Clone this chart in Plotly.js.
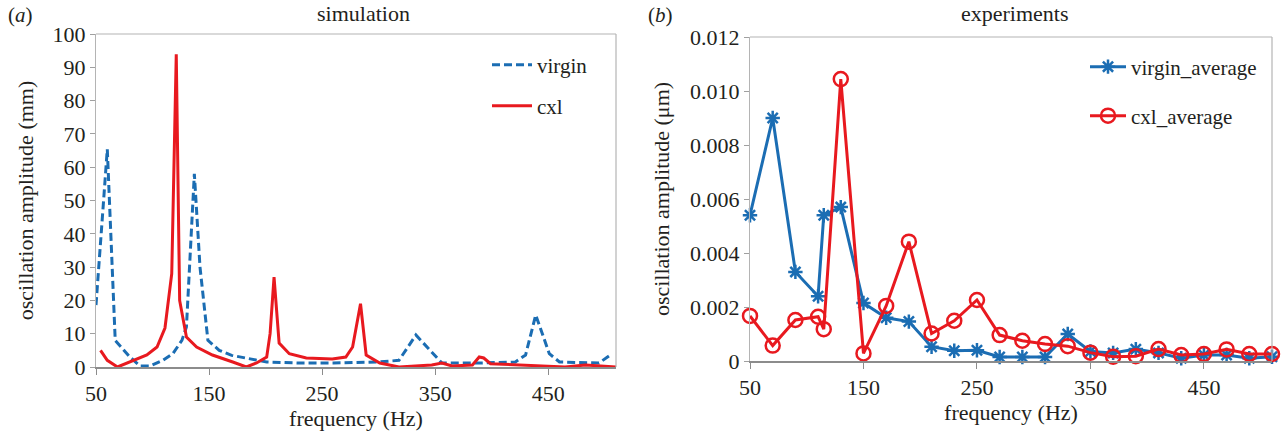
<!DOCTYPE html>
<html>
<head>
<meta charset="utf-8">
<script src="https://cdn.plot.ly/plotly-3.0.1.min.js"></script>
<style>html,body{margin:0;padding:0;background:#fff;}#chart{width:1283px;height:437px;}</style>
</head>
<body>
<div id="chart"></div>
<script>
// ---- (a) simulation ----
var simFreqVirgin = [50, 60, 67, 80, 89, 98, 109, 118, 126, 130, 137, 142, 149, 159, 170, 183, 201, 230, 260, 300, 318, 333, 351, 356, 389, 421, 430, 439, 451, 460, 495, 505];
var simVirgin =     [18.6, 65.4, 8, 3, 0.3, 0.3, 2, 4, 8, 12, 58, 30, 8, 5, 3.5, 2.7, 1.5, 1.2, 1.2, 1.5, 2, 9.6, 3, 1.2, 1.2, 1.5, 3.6, 15.6, 4, 1.5, 1.2, 3.6];
var simFreqCxl = [54, 60, 69, 83, 95, 104, 111, 117, 121, 124, 130, 139, 153, 171, 183, 192, 201, 204, 207.5, 212, 221, 236, 259, 271, 277, 284, 289, 301, 318, 347, 356, 365, 383, 389, 393, 399, 421, 465, 483, 510];
var simCxl =     [5, 2, 0, 2, 3.6, 6, 11.7, 28, 93.9, 20, 9, 6, 3.6, 1.5, 0, 1.2, 3, 10, 27, 7.2, 4, 2.7, 2.4, 3, 6, 19, 3.6, 1.2, 0, 0.6, 1.2, 0.3, 0.6, 3, 2.7, 1, 0.6, 0, 0.6, 0];

// ---- (b) experiments ----
var expFreq = [50, 70, 90, 110, 115, 130, 150, 170, 190, 210, 230, 250, 270, 290, 310, 330, 350, 370, 390, 410, 430, 450, 470, 490, 510];
var expVirgin = [0.0054, 0.0090, 0.0033, 0.0024, 0.0054, 0.0057, 0.00215, 0.0016, 0.00146, 0.00053, 0.00038, 0.0004, 0.00015, 0.00015, 0.00015, 0.0010, 0.00035, 0.0003, 0.00044, 0.0003, 0.0001, 0.00022, 0.00022, 0.0001, 0.00016];
var expCxl = [0.00167, 0.00057, 0.00152, 0.00164, 0.00118, 0.01044, 0.00028, 0.00204, 0.00442, 0.00102, 0.00149, 0.00226, 0.00096, 0.00075, 0.00063, 0.00055, 0.00031, 0.00016, 0.00018, 0.00044, 0.00022, 0.00026, 0.00043, 0.00026, 0.00026];

var xTickVals = [50, 150, 250, 350, 450];
var simYTickVals = [0, 10, 20, 30, 40, 50, 60, 70, 80, 90, 100];
var expYTickVals = [0, 0.002, 0.004, 0.006, 0.008, 0.010, 0.012];
var expYTickText = ['0', '0.002', '0.004', '0.006', '0.008', '0.010', '0.012'];

var BLUE = '#1b6db3';
var RED = '#e8191f';
var FONT = 'Liberation Serif';
var TXT = '#231f20';
var W = 1283, H = 437;

function f(size) { return {family: FONT, size: size, color: TXT}; }

var traces = [
  {x: simFreqVirgin, y: simVirgin, type: 'scatter', mode: 'lines', name: 'virgin',
   line: {color: BLUE, width: 3, dash: '8px,4px'}, xaxis: 'x', yaxis: 'y', legend: 'legend', cliponaxis: false},
  {x: simFreqCxl, y: simCxl, type: 'scatter', mode: 'lines', name: 'cxl',
   line: {color: RED, width: 3}, xaxis: 'x', yaxis: 'y', legend: 'legend2', cliponaxis: false},
  {x: expFreq, y: expVirgin, type: 'scatter', mode: 'lines+markers', name: 'virgin_average',
   line: {color: BLUE, width: 3}, marker: {symbol: 'asterisk-open', size: 12, color: BLUE, line: {color: BLUE, width: 2.5}},
   xaxis: 'x2', yaxis: 'y2', legend: 'legend3', cliponaxis: false},
  {x: expFreq, y: expCxl, type: 'scatter', mode: 'lines+markers', name: 'cxl_average',
   line: {color: RED, width: 3}, marker: {symbol: 'circle-open', size: 14, color: RED, line: {color: RED, width: 2.5}},
   xaxis: 'x2', yaxis: 'y2', legend: 'legend4', cliponaxis: false}
];

function px(x) { return x / W; }
function py(y) { return 1 - y / H; }

var commonX = {
  range: [50, 510], tickmode: 'array', tickvals: xTickVals, ticks: 'outside', ticklen: 6, tickcolor: '#8c8c8c',
  showline: true, linecolor: '#8c8c8c', linewidth: 1.5, mirror: false, showgrid: false, zeroline: false,
  tickfont: f(22), fixedrange: true
};
var commonY = {
  ticks: 'outside', ticklen: 5, tickcolor: '#a0a0a0', showline: true, linecolor: '#b4b4b4', linewidth: 1.2,
  showgrid: false, zeroline: false, tickfont: f(22), fixedrange: true
};

var layout = {
  width: W, height: H,
  margin: {l: 0, r: 0, t: 0, b: 0},
  paper_bgcolor: '#ffffff', plot_bgcolor: '#ffffff',
  font: f(21),
  showlegend: true,
  xaxis: Object.assign({}, commonX, {domain: [px(96), px(616)], anchor: 'y',
    title: {text: 'frequency (Hz)', font: f(22), standoff: 0}}),
  yaxis: Object.assign({}, commonY, {domain: [py(367), py(34)], anchor: 'x', range: [0, 100],
    tickmode: 'array', tickvals: simYTickVals,
    title: {text: 'oscillation amplitude (mm)', font: f(22), standoff: 12}}),
  xaxis2: Object.assign({}, commonX, {domain: [px(750), px(1272)], anchor: 'y2',
    title: {text: 'frequency (Hz)', font: f(22), standoff: 0}}),
  yaxis2: Object.assign({}, commonY, {domain: [py(361), py(37)], anchor: 'x2', range: [0, 0.012],
    tickmode: 'array', tickvals: expYTickVals, ticktext: expYTickText,
    title: {text: 'oscillation amplitude (μm)', font: f(22), standoff: 14}}),
  legend: {x: px(487), y: py(65), xanchor: 'left', yanchor: 'middle', bgcolor: 'rgba(0,0,0,0)', font: f(21), itemwidth: 40},
  legend2: {x: px(487), y: py(106), xanchor: 'left', yanchor: 'middle', bgcolor: 'rgba(0,0,0,0)', font: f(21), itemwidth: 40},
  legend3: {x: px(1085), y: py(67), xanchor: 'left', yanchor: 'middle', bgcolor: 'rgba(0,0,0,0)', font: f(21), itemwidth: 36},
  legend4: {x: px(1085), y: py(116), xanchor: 'left', yanchor: 'middle', bgcolor: 'rgba(0,0,0,0)', font: f(21), itemwidth: 36},
  shapes: [
    {type: 'line', xref: 'paper', yref: 'paper', x0: px(96), x1: px(616), y0: py(34), y1: py(34), line: {color: '#b4b4b4', width: 1.2}},
    {type: 'line', xref: 'paper', yref: 'paper', x0: px(616), x1: px(616), y0: py(34), y1: py(367), line: {color: '#b4b4b4', width: 1.2}},
    {type: 'line', xref: 'paper', yref: 'paper', x0: px(750), x1: px(1272), y0: py(37), y1: py(37), line: {color: '#b4b4b4', width: 1.2}},
    {type: 'line', xref: 'paper', yref: 'paper', x0: px(1272), x1: px(1272), y0: py(37), y1: py(361), line: {color: '#b4b4b4', width: 1.2}}
  ],
  annotations: [
    {text: '(<i>a</i>)', xref: 'paper', yref: 'paper', x: px(20), y: py(15), xanchor: 'center', yanchor: 'middle', showarrow: false, font: f(21)},
    {text: '(<i>b</i>)', xref: 'paper', yref: 'paper', x: px(660), y: py(15), xanchor: 'center', yanchor: 'middle', showarrow: false, font: f(21)},
    {text: 'simulation', xref: 'paper', yref: 'paper', x: px(363), y: py(13), xanchor: 'center', yanchor: 'middle', showarrow: false, font: f(22)},
    {text: 'experiments', xref: 'paper', yref: 'paper', x: px(1015), y: py(13), xanchor: 'center', yanchor: 'middle', showarrow: false, font: f(22)}
  ]
};

Plotly.newPlot('chart', traces, layout, {displayModeBar: false, staticPlot: true});
</script>
</body>
</html>
